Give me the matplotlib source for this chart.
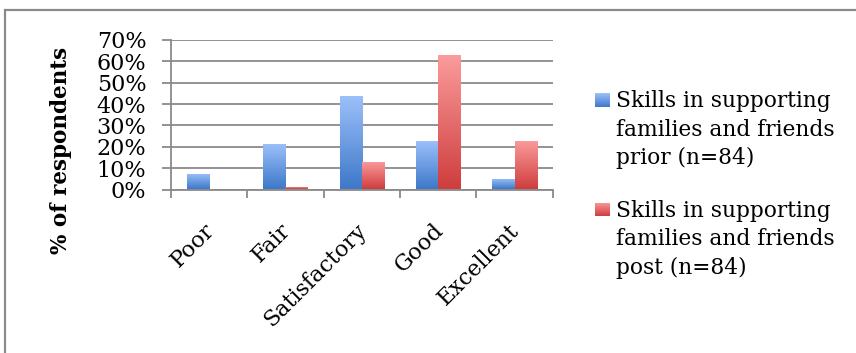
import numpy as np
import matplotlib
matplotlib.use('Agg')
import matplotlib.pyplot as plt
import matplotlib.transforms as mtransforms
from matplotlib.patches import Rectangle
from matplotlib.colors import LinearSegmentedColormap

categories = ['Poor', 'Fair', 'Satisfactory', 'Good', 'Excellent']
prior = [7.1, 21.4, 44.0, 22.6, 4.8]
post = [0.0, 1.2, 13.1, 63.1, 22.6]
label_prior = 'Skills in supporting\nfamilies and friends\nprior (n=84)'
label_post = 'Skills in supporting\nfamilies and friends\npost (n=84)'
yticks = [0, 10, 20, 30, 40, 50, 60, 70]

plt.rcParams['font.family'] = ['DejaVu Serif']

blue_cmap = LinearSegmentedColormap.from_list('b', ['#3d78c9', '#9dc1fa'])
red_cmap = LinearSegmentedColormap.from_list('r', ['#cf3d3d', '#fb9c9c'])

W, H = 856, 353
fig = plt.figure(figsize=(W / 100, H / 100), dpi=100)
ax = fig.add_axes([170.7 / W, 1 - 189.5 / H, 382 / W, 149.5 / H])

# outer chart frame (runs off the image at right and bottom)
fig.patches.append(Rectangle((5 / W, -0.2), 1.2, 1.2 - 10 / H,
                             transform=fig.transFigure, fill=False,
                             edgecolor='#8a8a8a', linewidth=1.6))

x = np.arange(len(categories))
w = 0.29
grad = np.linspace(0, 1, 256).reshape(-1, 1)


def gradient_bars(xs, vals, cmap):
    bars = ax.bar(xs, vals, w, color='none', edgecolor='none', zorder=3)
    for b in bars:
        h = b.get_height()
        if h <= 0:
            continue
        x0 = b.get_x()
        im = ax.imshow(grad, cmap=cmap, origin='lower', aspect='auto',
                       extent=[x0, x0 + b.get_width(), 0, h], zorder=3)
        im.set_clip_path(b)
    return bars


gradient_bars(x - w / 2, prior, blue_cmap)
gradient_bars(x + w / 2, post, red_cmap)

ax.set_xlim(-0.5, len(categories) - 0.5)
ax.set_ylim(0, 70)
ax.set_yticks(yticks)
ax.set_yticklabels([f'{t}%' for t in yticks], fontsize=16)
ax.yaxis.grid(True, color='#8a8a8a', linewidth=1.3)
ax.set_axisbelow(True)

ax.set_xticks(np.arange(len(categories) + 1) - 0.5)
ax.set_xticklabels([])
ax.tick_params(axis='x', length=6, color='#8a8a8a', width=1.3)
ax.tick_params(axis='y', length=6.5, color='#8a8a8a', width=1.3, pad=11)

# rotated category labels, top-right corner hung under each category
off = mtransforms.ScaledTranslation(-6 / 100, -30 / 100, fig.dpi_scale_trans)
for i, cat in enumerate(categories):
    ax.text(i, 0, cat, transform=ax.get_xaxis_transform() + off,
            rotation=45, rotation_mode='anchor', ha='right', va='top',
            fontsize=16)

for s in ['top', 'right']:
    ax.spines[s].set_visible(False)
for s in ['left', 'bottom']:
    ax.spines[s].set_color('#8a8a8a')
    ax.spines[s].set_linewidth(1.3)

ax.set_ylabel('% of respondents', fontsize=15.5, fontweight='bold')
ax.yaxis.set_label_coords(-0.258, 0.26)

# legend, drawn by hand so the key sits beside the first line
for lab, cmap, base in [(label_prior, blue_cmap, 107), (label_post, red_cmap, 216.5)]:
    key = fig.add_axes([595 / W, 1 - base / H, 15 / W, 14 / H])
    key.imshow(grad, cmap=cmap, origin='lower', aspect='auto')
    key.set_axis_off()
    for j, line in enumerate(lab.split('\n')):
        fig.text(616 / W, 1 - (base + 28.7 * j) / H, line, fontsize=15.7,
                 va='baseline', ha='left')

fig.savefig('out.png', dpi=100)
